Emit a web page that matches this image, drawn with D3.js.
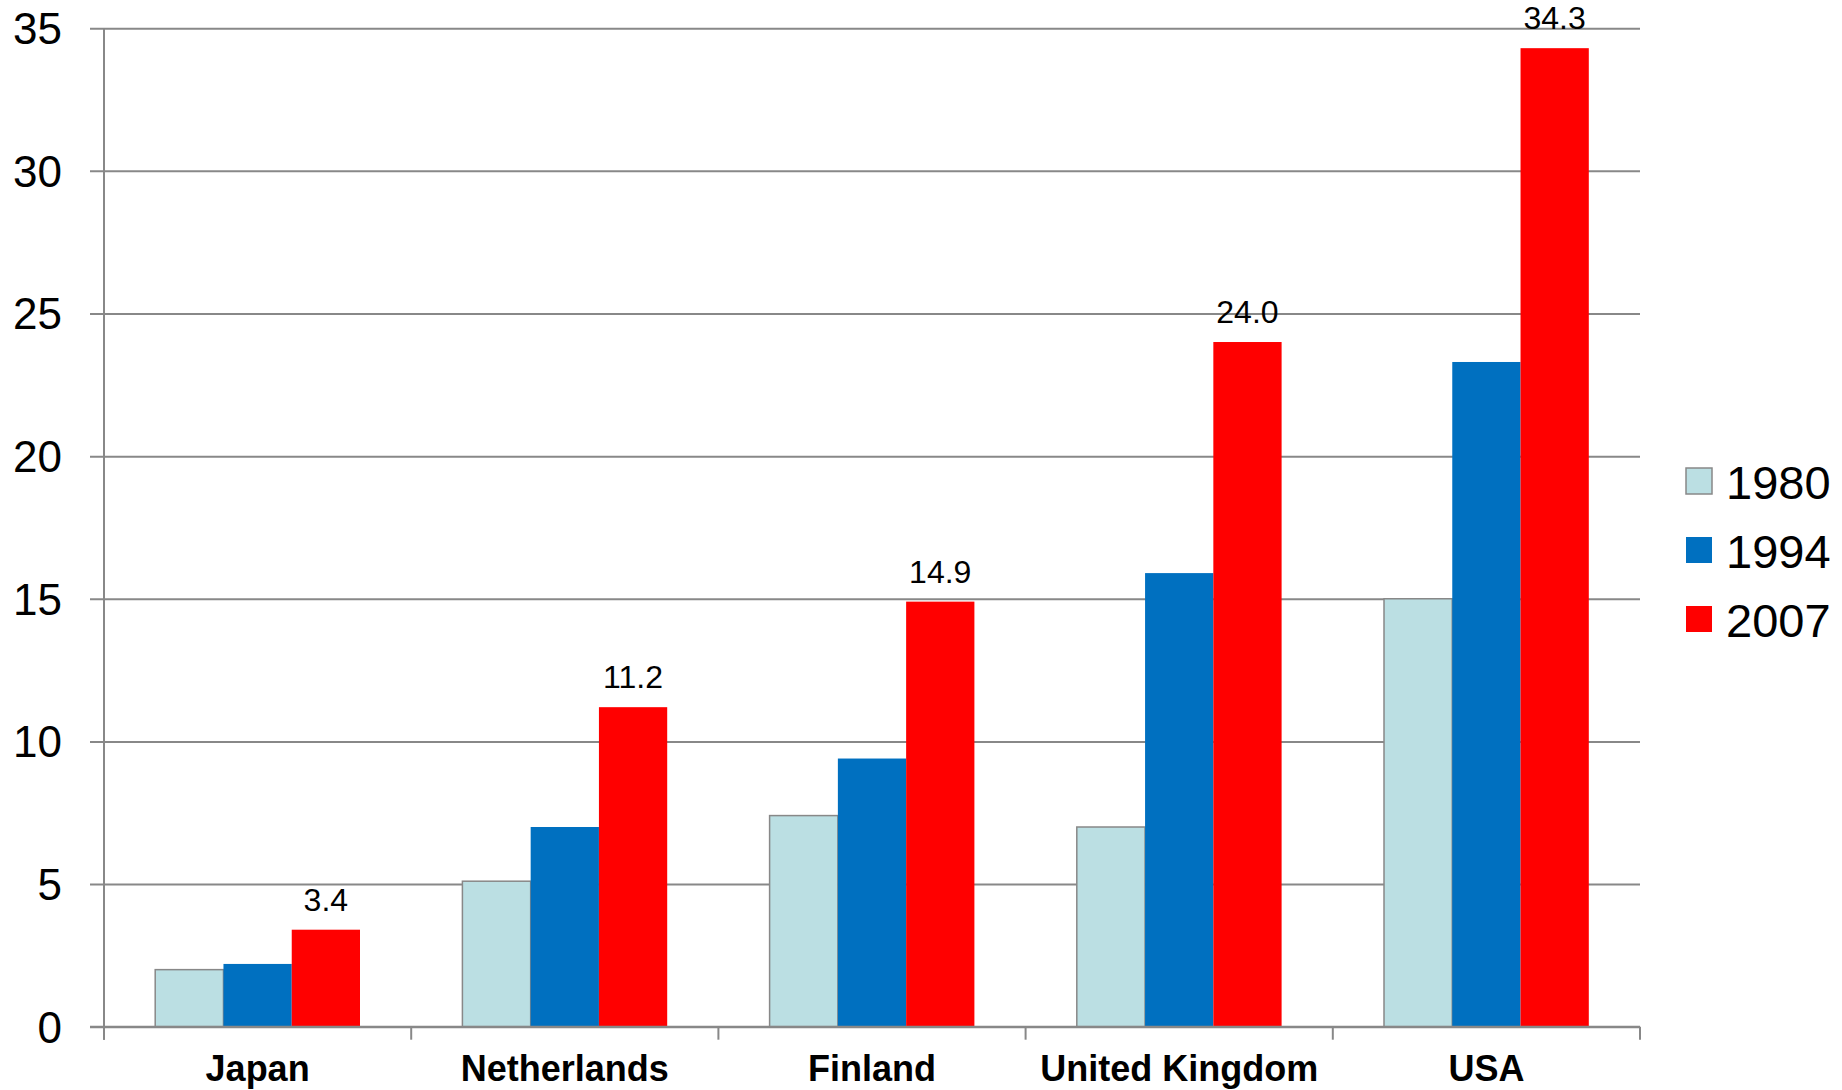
<!DOCTYPE html>
<html>
<head>
<meta charset="utf-8">
<script src="https://cdn.jsdelivr.net/npm/d3@7"></script>
<style>
  body { margin: 0; background: #fff; }
  text { font-family: "Liberation Sans", Arial, sans-serif; fill: #000; }
</style>
</head>
<body>
<div id="vis"></div>
<script>
// data
var countries = ["Japan", "Netherlands", "Finland", "United Kingdom", "USA"];
var years = ["1980", "1994", "2007"];
var values1980 = [2.0, 5.1, 7.4, 7.0, 15.0];
var values1994 = [2.2, 7.0, 9.4, 15.9, 23.3];
var values2007 = [3.4, 11.2, 14.9, 24.0, 34.3];
var yTicks = [0, 5, 10, 15, 20, 25, 30, 35];

var width = 1842;
var height = 1090;

var plot = { left: 104, right: 1640, top: 28.2, bottom: 1026.7 };

var colors = { "1980": "#bbdfe3", "1994": "#0070c0", "2007": "#ff0000" };
var gridColor = "#888888";

var series = { "1980": values1980, "1994": values1994, "2007": values2007 };

var svg = d3.select("#vis")
            .append("svg")
            .attr("width", width)
            .attr("height", height);

var x0 = d3.scaleBand()
    .domain(countries)
    .range([plot.left, plot.right])
    .padding(0);

var x1 = d3.scaleBand()
    .domain(years)
    .range([0, x0.bandwidth()])
    .paddingInner(0)
    .paddingOuter(0.75);

var y = d3.scaleLinear()
    .domain([0, 35])
    .range([plot.bottom, plot.top]);

// gridlines + y labels
var yAxis = d3.axisLeft(y)
    .tickValues(yTicks)
    .tickSize(plot.right - 90)
    .tickPadding(28)
    .tickFormat(d3.format("d"));

var gy = svg.append("g")
    .attr("transform", "translate(" + plot.right + ",0)")
    .call(yAxis);
gy.select(".domain").remove();
gy.selectAll(".tick line").attr("stroke", gridColor).attr("stroke-width", 2);
gy.selectAll(".tick text")
    .style("font-size", "44px")
    .attr("fill", "#000")
    .attr("dy", "0.35em");

// bars
var groups = svg.append("g")
    .selectAll("g")
    .data(countries)
    .enter().append("g")
    .attr("transform", function(d) { return "translate(" + x0(d) + ",0)"; });

groups.selectAll("rect")
    .data(function(d, i) {
        return years.map(function(yr) { return { year: yr, value: series[yr][i] }; });
    })
    .enter().append("rect")
    .attr("x", function(d) { return x1(d.year); })
    .attr("y", function(d) { return y(d.value); })
    .attr("width", x1.bandwidth())
    .attr("height", function(d) { return y(0) - y(d.value); })
    .attr("fill", function(d) { return colors[d.year]; })
    .attr("stroke", function(d) { return d.year == "1980" ? gridColor : "none"; })
    .attr("stroke-width", 1.5);

// labels on the 2007 bars
groups.append("text")
    .attr("x", function() { return x1("2007") + x1.bandwidth() / 2; })
    .attr("y", function(d, i) { return y(values2007[i]) - 19; })
    .attr("text-anchor", "middle")
    .style("font-size", "32px")
    .text(function(d, i) { return d3.format(".1f")(values2007[i]); });

// y axis line
svg.append("line")
    .attr("x1", plot.left).attr("x2", plot.left)
    .attr("y1", plot.top).attr("y2", plot.bottom + 13)
    .attr("stroke", gridColor).attr("stroke-width", 2);

// x axis line and category separators
svg.append("line")
    .attr("x1", 90).attr("x2", plot.right)
    .attr("y1", plot.bottom).attr("y2", plot.bottom)
    .attr("stroke", gridColor).attr("stroke-width", 2);

var bounds = countries.map(function(c) { return x0(c); }).concat([plot.right]);
svg.append("g")
    .selectAll("line")
    .data(bounds)
    .enter().append("line")
    .attr("x1", function(d) { return d; })
    .attr("x2", function(d) { return d; })
    .attr("y1", plot.bottom)
    .attr("y2", plot.bottom + 13)
    .attr("stroke", gridColor)
    .attr("stroke-width", 2);

var xAxis = d3.axisBottom(x0).tickSize(0).tickPadding(0);
var gx = svg.append("g")
    .attr("transform", "translate(0," + plot.bottom + ")")
    .call(xAxis);
gx.select(".domain").remove();
gx.selectAll(".tick text")
    .attr("y", 54)
    .attr("dy", 0)
    .attr("fill", "#000")
    .style("font-size", "36px")
    .style("font-weight", "bold");

// legend
var legend = svg.append("g")
    .selectAll("g")
    .data(years)
    .enter().append("g")
    .attr("transform", function(d, i) { return "translate(1686," + (468 + i * 69) + ")"; });

legend.append("rect")
    .attr("width", 26)
    .attr("height", 26)
    .attr("fill", function(d) { return colors[d]; })
    .attr("stroke", function(d) { return d == "1980" ? gridColor : "none"; })
    .attr("stroke-width", 1.5);

legend.append("text")
    .attr("x", 40)
    .attr("y", 31)
    .style("font-size", "47px")
    .text(function(d) { return d; });
</script>
</body>
</html>
